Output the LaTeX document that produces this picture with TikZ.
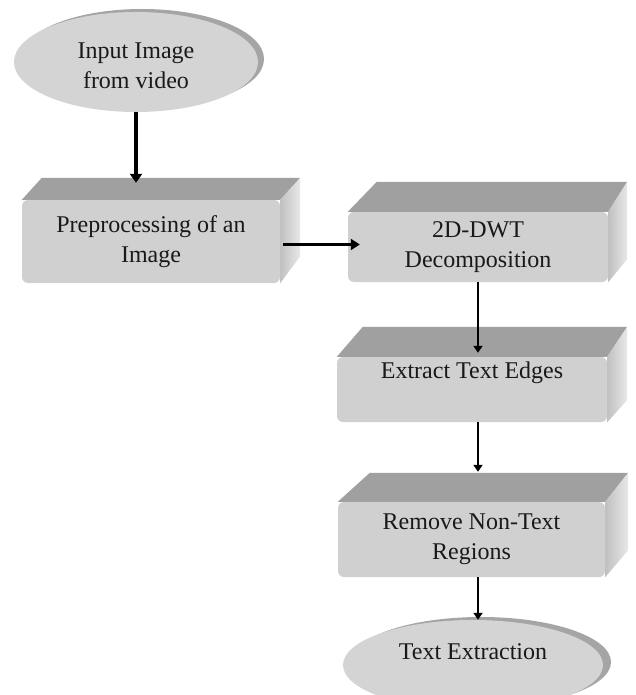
\documentclass[tikz,border=0pt]{standalone}
\usepackage{fontspec}
\setmainfont{Liberation Serif}
\usetikzlibrary{shapes.geometric,calc,arrows.meta,backgrounds}
\definecolor{facefront}{RGB}{208,208,208}
\definecolor{facetop}{RGB}{160,160,160}
\definecolor{sidea}{RGB}{192,192,192}
\definecolor{sideb}{RGB}{232,232,232}
\definecolor{ellfill}{RGB}{212,212,212}
\definecolor{ellshadow}{RGB}{165,165,165}
\definecolor{txt}{RGB}{25,25,25}
\newcommand\boxfaces[4]{%
  \coordinate (#1-bl) at ($(#1.north west)+#2$);
  \coordinate (#1-br) at ($(#1.north east)+#3$);
  \fill[topface] (#1.north west) -- (#1-bl) -- (#1-br) -- (#1.north east) -- cycle;
  \shade[sideface] (#1.north east) -- (#1-br) -- ($(#1.south east)+#4$) -- (#1.south east) -- cycle;}
\begin{document}
\begin{tikzpicture}[x=1pt,y=-1pt,
  txtfont/.style={font=\fontsize{24}{30}\selectfont, text=txt},
  front/.style={rectangle, rounded corners=6pt, fill=facefront, inner sep=0pt, align=center, txtfont},
  topface/.style={fill=facetop},
  sideface/.style={left color=sidea, right color=sideb},
  ellsh/.style={ellipse, fill=ellshadow, inner sep=0pt},
  ell/.style={ellipse, fill=ellfill, inner sep=0pt},
  arr/.style={-{Triangle[length=7pt,width=9pt]}, line width=2pt, draw=black},
  arrmid/.style={arr, line width=3.5pt, -{Triangle[length=9pt,width=11pt]}},
  arrthick/.style={arr, line width=4pt, -{Triangle[length=9pt,width=12pt]}}]
\useasboundingbox (0,0) rectangle (635,695);

% ellipses
\node[ellsh, minimum width=244pt, minimum height=100pt] (inpsh) at (142,59) {};
\node[ell, minimum width=244pt, minimum height=100pt,
      label={[txtfont, align=center, yshift=-4pt]center:Input Image\\from video}] (inp) at (136,62) {};

\node[ellsh, minimum width=260pt, minimum height=90pt] (outsh) at (481,662) {};
\node[ell, minimum width=260pt, minimum height=90pt,
      label={[txtfont, yshift=13pt]center:Text Extraction}] (out) at (473,665) {};

% boxes (front faces)
\node[front, minimum width=258pt, minimum height=83pt] (pre) at (151,241.5) {Preprocessing of an\\Image};
\node[front, minimum width=260pt, minimum height=70pt] (dwt) at (478,247) {2D-DWT\\Decomposition};
\node[front, minimum width=270pt, minimum height=65pt] (ext) at (472,389.5) {Extract Text Edges\\\strut};
\node[front, minimum width=267pt, minimum height=75pt] (rem) at (471.5,539.5) {Remove Non-Text\\Regions};

\begin{scope}[on background layer]
  \fill[white] (0,0) rectangle (635,695);
  \boxfaces{pre}{(20,-22)}{(20,-22)}{(20,-27)}
  \boxfaces{dwt}{(29,-30)}{(19,-30)}{(19,-23)}
  \boxfaces{ext}{(26,-30)}{(20,-30)}{(20,-22)}
  \boxfaces{rem}{(32,-29)}{(23,-29)}{(23,-27)}
\end{scope}

% connectors
\draw[arrthick, shorten >=-5pt] (inp.south) -- (inp.south |- pre-bl);
\draw[arrmid] ($(pre.east)+(3,3)$) -- ($(dwt.west |- pre.east)+(12,3)$);
\draw[arr] (dwt.south) -- ($(dwt.south |- ext.north)+(0,-4)$);
\draw[arr] (dwt.south |- ext.south) -- ($(dwt.south |- rem-bl)+(0,-1)$);
\draw[arr] (dwt.south |- rem.south) -- (dwt.south |- out.north);
\end{tikzpicture}
\end{document}
